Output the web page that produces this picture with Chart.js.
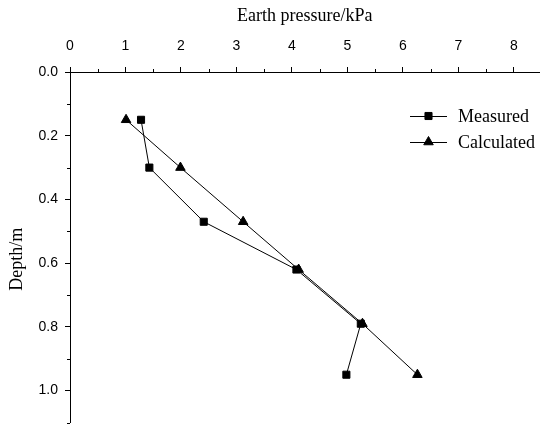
<!DOCTYPE html>
<html>
<head>
<meta charset="utf-8">
<title>Earth pressure vs depth</title>
<script src="https://cdn.jsdelivr.net/npm/chart.js@4.4.1/dist/chart.umd.min.js"></script>
<style>
    html, body { margin: 0; padding: 0; background: #fff; }
    canvas { display: block; }
</style>
</head>
<body>
<canvas id="pressureChart" width="546" height="429"></canvas>
<script>
// Depth of each measuring point (m)
const depths = [0.15, 0.30, 0.47, 0.62, 0.79, 0.95];
// Earth pressure at those depths (kPa)
const measured = [1.28, 1.43, 2.41, 4.08, 5.24, 4.98];
const calculated = [1.01, 1.99, 3.12, 4.12, 5.27, 6.26];
const seriesNames = ['Measured', 'Calculated'];

// Axis ticks
const xTicks = [0, 1, 2, 3, 4, 5, 6, 7, 8];
const yTicks = [0.0, 0.2, 0.4, 0.6, 0.8, 1.0];
const xMinorTicks = [0.5, 1.5, 2.5, 3.5, 4.5, 5.5, 6.5, 7.5];
const yMinorTicks = [0.1, 0.3, 0.5, 0.7, 0.9, 1.1];

const SERIF = '"Liberation Serif", "Times New Roman", serif';
const SANS = '"Liberation Sans", Arial, sans-serif';

function toPoints(values) {
    return values.map((v, i) => ({ x: v, y: depths[i] }));
}

// Short outward ticks between the labelled ones, plus the depth title
const minorTicks = {
    id: 'minorTicks',
    afterDraw(chart) {
        const { ctx, scales: { x, y } } = chart;
        ctx.save();
        ctx.strokeStyle = '#000';
        ctx.lineWidth = 1;
        ctx.beginPath();
        xMinorTicks.forEach(v => {
            const px = Math.round(x.getPixelForValue(v)) + 0.5;
            ctx.moveTo(px, x.bottom);
            ctx.lineTo(px, x.bottom - 3);
        });
        yMinorTicks.forEach(v => {
            const py = Math.round(y.getPixelForValue(v)) + 0.5;
            ctx.moveTo(y.right, py);
            ctx.lineTo(y.right - 3, py);
        });
        ctx.stroke();

        // y title sits a little below the middle of the axis in the original
        ctx.translate(17, (y.top + y.bottom) / 2 + 12);
        ctx.rotate(-Math.PI / 2);
        ctx.fillStyle = '#000';
        ctx.font = '18px ' + SERIF;
        ctx.textAlign = 'center';
        ctx.textBaseline = 'middle';
        ctx.fillText('Depth/m', 0, 0);
        ctx.restore();
    }
};

// Legend with the line running through the marker
const lineLegend = {
    id: 'lineLegend',
    afterDatasetsDraw(chart, args, opts) {
        const ctx = chart.ctx;
        ctx.save();
        chart.data.datasets.forEach((ds, i) => {
            const y = opts.top + i * opts.rowHeight;
            ctx.strokeStyle = ds.borderColor;
            ctx.lineWidth = ds.borderWidth;
            ctx.beginPath();
            ctx.moveTo(opts.left, y + 0.5);
            ctx.lineTo(opts.left + opts.lineLength, y + 0.5);
            ctx.stroke();

            ctx.fillStyle = ds.pointBackgroundColor;
            ctx.strokeStyle = ds.pointBorderColor;
            ctx.lineWidth = 1;
            Chart.helpers.drawPoint(ctx, {
                pointStyle: ds.pointStyle,
                radius: ds.pointRadius,
                borderWidth: 1,
                rotation: 0
            }, opts.left + opts.lineLength / 2, y);

            ctx.fillStyle = '#000';
            ctx.font = '18px ' + SERIF;
            ctx.textBaseline = 'middle';
            ctx.textAlign = 'left';
            ctx.fillText(ds.label, opts.left + opts.lineLength + opts.gap, y + 1);
        });
        ctx.restore();
    }
};

document.addEventListener('DOMContentLoaded', function() {
    const ctx = document.getElementById('pressureChart');

    new Chart(ctx, {
        type: 'scatter',
        data: {
            datasets: [{
                label: seriesNames[0],
                data: toPoints(measured),
                showLine: true,
                borderColor: '#000',
                borderWidth: 1,
                pointStyle: 'rect',
                pointRadius: 5,
                pointBackgroundColor: '#000',
                pointBorderColor: '#000',
                pointBorderWidth: 1
            }, {
                label: seriesNames[1],
                data: toPoints(calculated),
                showLine: true,
                borderColor: '#000',
                borderWidth: 1,
                pointStyle: 'triangle',
                pointRadius: 5.5,
                pointBackgroundColor: '#000',
                pointBorderColor: '#000',
                pointBorderWidth: 1
            }]
        },
        options: {
            responsive: false,
            animation: false,
            events: [],
            layout: {
                padding: { top: 0, left: 0, right: 0, bottom: 3 }
            },
            plugins: {
                legend: { display: false },
                tooltip: { enabled: false },
                lineLegend: {
                    left: 410,
                    top: 116,
                    rowHeight: 26,
                    lineLength: 37,
                    gap: 11
                }
            },
            scales: {
                x: {
                    type: 'linear',
                    position: 'top',
                    min: 0,
                    max: 8.46,
                    afterBuildTicks: scale => {
                        scale.ticks = xTicks.map(v => ({ value: v }));
                    },
                    afterFit: scale => {
                        scale.height = 72;
                        scale.paddingLeft = 0;
                        scale.paddingRight = 0;
                    },
                    ticks: {
                        color: '#000',
                        padding: 12,
                        font: { family: SANS, size: 14 }
                    },
                    grid: {
                        drawOnChartArea: false,
                        drawTicks: true,
                        tickLength: 5,
                        color: '#000',
                        tickColor: '#000'
                    },
                    border: { display: true, color: '#000', width: 1 },
                    title: {
                        display: true,
                        text: 'Earth pressure/kPa',
                        color: '#000',
                        padding: { top: 5, bottom: 0 },
                        font: { family: SERIF, size: 18 }
                    }
                },
                y: {
                    type: 'linear',
                    reverse: true,
                    min: 0,
                    max: 1.1,
                    afterBuildTicks: scale => {
                        scale.ticks = yTicks.map(v => ({ value: v }));
                    },
                    afterFit: scale => {
                        scale.width = 70;
                        scale.paddingTop = 0;
                        scale.paddingBottom = 0;
                    },
                    ticks: {
                        color: '#000',
                        padding: 7,
                        font: { family: SANS, size: 14 },
                        callback: v => v.toFixed(1)
                    },
                    grid: {
                        drawOnChartArea: false,
                        drawTicks: true,
                        tickLength: 5,
                        color: '#000',
                        tickColor: '#000'
                    },
                    border: { display: true, color: '#000', width: 1 },
                    title: { display: false }
                }
            }
        },
        plugins: [minorTicks, lineLegend]
    });
});
</script>
</body>
</html>
